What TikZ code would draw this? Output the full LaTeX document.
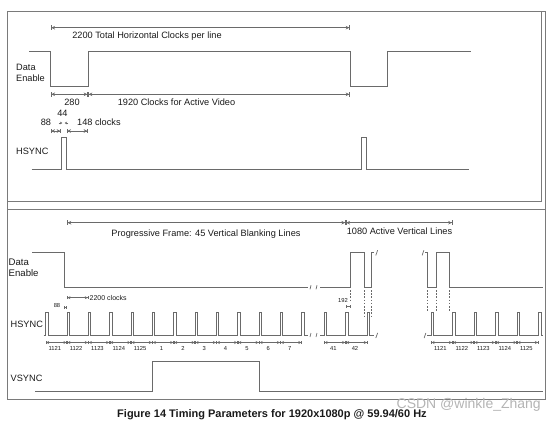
\documentclass[tikz,border=0pt]{standalone}
\usepackage{fontspec}
\setmainfont{Liberation Sans}
\usetikzlibrary{arrows.meta}
\definecolor{sigc}{HTML}{6A6A6A}
\definecolor{txtc}{HTML}{1A1A1A}
\definecolor{frmc}{HTML}{7A7A7A}
\definecolor{wmc}{HTML}{B4B4B4}
\tikzset{
  sig/.style={draw=sigc, line width=0.75pt, line join=miter},
  frm/.style={draw=frmc, line width=0.6pt},
  dimA/.style={draw=sigc, line width=0.5pt,
    {Bar[width=4.5pt,line width=0.7pt]Stealth[length=3.6pt,width=3.6pt]}-{Stealth[length=3.6pt,width=3.6pt]Bar[width=4.5pt,line width=0.7pt]}},
  dimB/.style={draw=sigc, line width=0.45pt,
    {Bar[width=3.4pt,line width=0.6pt]Stealth[length=2.9pt,width=3pt]}-{Stealth[length=2.9pt,width=3pt]Bar[width=3.4pt,line width=0.6pt]}},
  tickdim/.style={draw=sigc, line width=0.45pt, {Bar[width=2.8pt]}-{Bar[width=2.8pt]}},
  inarr/.style={draw=sigc, line width=0.45pt, -{Stealth[length=2.4pt,width=2.8pt]}},
  dsh/.style={draw=sigc, line width=0.6pt, dash pattern=on 1.6pt off 1.6pt},
  brk/.style={draw=sigc, line width=0.7pt},
  lbl/.style={text=txtc, inner sep=0pt, font=\fontsize{9.2}{11}\selectfont},
  mid/.style={text=txtc, inner sep=0pt, font=\fontsize{7}{8}\selectfont},
  sml/.style={text=txtc, inner sep=0pt, font=\fontsize{5.8}{6.5}\selectfont},
}
\newcommand{\squigmark}[2]{\draw[brk] (#1-0.9,#2+2.6) .. controls (#1+1.6,#2+1) and (#1-1.6,#2-1) .. (#1+0.9,#2-2.6);}
\newcommand{\brkmark}[2]{\draw[brk] (#1-0.5,#2+2) -- (#1+0.5,#2-2);}
\begin{document}
\begin{tikzpicture}[x=1pt,y=-1pt]
\useasboundingbox (0,0) rectangle (554,423);
% frames
\draw[frm] (7,11) rectangle (545,399);
\draw[frm] (7,11) rectangle (541,201.5);
\draw[frm] (7,209.3) -- (545,209.3);

% ---------- top panel ----------
\draw[dimA] (50.7,27.7) -- (350,27.7);
\node[lbl] (t2200) at (147,35.7) {2200 Total Horizontal Clocks per line};
\draw[sig] (29,51.7) -- (50.7,51.7) -- (50.7,86) -- (88,86) -- (88,51.7) -- (350,51.7) -- (350,86) -- (387.5,86) -- (387.5,51.7) -- (470.5,51.7);
\node[lbl,align=left,anchor=west] (tde) at (16,72.5) {Data\\Enable};
\draw[dimA] (50.7,94.3) -- (88,94.3);
\draw[dimA] (88,94.3) -- (350,94.3);
\node[lbl] (t280) at (72,102) {280};
\node[lbl] (t1920) at (176.5,102) {1920 Clocks for Active Video};
\node[lbl] (t44) at (62.5,113.7) {44};
\node[lbl] (t88) at (46,122) {88};
\node[lbl,anchor=west] (t148) at (77,122) {148 clocks};
\draw[inarr] (58.6,123) -- (62.3,123);
\draw[inarr] (68.4,123) -- (64.7,123);
\draw[dimA] (50.7,131) -- (61,131);
\draw[dimA] (66.7,131) -- (88,131);
\node[lbl,anchor=west] (ths) at (16,151.7) {HSYNC};
\draw[sig] (31.7,169.3) -- (61,169.3) -- (61,137.3) -- (66.7,137.3) -- (66.7,169.3) -- (361,169.3) -- (361,137.3) -- (366.7,137.3) -- (366.7,169.3) -- (468.7,169.3);

% ---------- bottom panel ----------
\draw[dimA] (66.95,222.7) -- (345.7,222.7);
\draw[dimA] (345.7,222.7) -- (452.5,222.7);
\node[lbl] (bprog) at (206,234) {Progressive Frame: 45 Vertical Blanking Lines};
\node[lbl] (b1080) at (399.5,231) {1080 Active Vertical Lines};

\node[lbl,align=left,anchor=west,font=\fontsize{9.6}{11}\selectfont] (bde) at (8.5,268) {Data\\Enable};
\draw[sig] (32,252.3) -- (64,252.3) -- (64,287.3) -- (308,287.3);
\brkmark{310.5}{287.3}\brkmark{316.5}{287.3}
\draw[sig] (320,287.3) -- (350.3,287.3) -- (350.3,252.3) -- (364,252.3) -- (364,287.3) -- (371.7,287.3) -- (371.7,252.3) -- (374.3,252.3);
\squigmark{376.7}{252.8}
\squigmark{423}{252.8}
\draw[sig] (425.2,252.3) -- (427.7,252.3) -- (427.7,287.3) -- (436.7,287.3) -- (436.7,252.3) -- (449.3,252.3) -- (449.3,287.3) -- (542.7,287.3);

\draw[dsh] (350.3,290) -- (350.3,301);
\draw[dsh] (364,290) -- (364,318);
\draw[dsh] (371.7,290) -- (371.7,318);
\draw[dsh] (427.7,290) -- (427.7,311);
\draw[dsh] (436.7,290) -- (436.7,311);
\draw[dsh] (449.3,290) -- (449.3,311);

\draw[dimB] (66.95,297.7) -- (88.3,297.7);
\node[mid,anchor=west] (b2200) at (89.5,297.9) {2200 clocks};
\node[sml] (b88) at (57,305.3) {88};
\draw[tickdim] (64,307.5) -- (66.9,307.5);
\node[sml] (b192) at (343,300.5) {192};
\draw[tickdim] (345.7,306.7) -- (350.3,306.7);

\node[lbl,anchor=west] (bhs) at (10.5,324) {HSYNC};
\draw[sig] (43.5,335) \foreach \k in {0,...,12}{ -- ({45.6+21.35*\k},335) -- ++(0,-23) -- ++(2.4,0) -- ++(0,23)} -- (308,335);
\brkmark{310.5}{335}\brkmark{316.5}{335}
\draw[sig] (320,335) \foreach \k in {0,1,2}{ -- ({324+21.65*\k},335) -- ++(0,-23) -- ++(2.4,0) -- ++(0,23)} -- (374.3,335);
\squigmark{376.7}{335.5}
\squigmark{425}{335.5}
\draw[sig] (427.2,335) \foreach \k in {0,...,5}{ -- ({431+21.5*\k},335) -- ++(0,-23) -- ++(2.4,0) -- ++(0,23)} -- (543.3,335);

\foreach \lab [count=\i from 0] in {1121,1122,1123,1124,1125,1,2,3,4,5,6,7}{
  \pgfmathsetmacro{\xa}{45.6+21.35*\i}
  \pgfmathsetmacro{\xb}{45.6+21.35*(\i+1)}
  \draw[dimB] (\xa,342.5) -- (\xb,342.5);
  \node[sml] (na\i) at ({(\xa+\xb)/2-1.5},348.8) {\lab};
}
\foreach \lab [count=\i from 0] in {41,42}{
  \pgfmathsetmacro{\xa}{324+21.65*\i}
  \pgfmathsetmacro{\xb}{324+21.65*(\i+1)}
  \draw[dimB] (\xa,342.5) -- (\xb,342.5);
  \node[sml] (nb\i) at ({(\xa+\xb)/2-1.5},348.8) {\lab};
}
\foreach \lab [count=\i from 0] in {1121,1122,1123,1124,1125}{
  \pgfmathsetmacro{\xa}{431+21.5*\i}
  \pgfmathsetmacro{\xb}{431+21.5*(\i+1)}
  \draw[dimB] (\xa,342.5) -- (\xb,342.5);
  \node[sml] (nc\i) at ({(\xa+\xb)/2-1.5},348.8) {\lab};
}

\node[lbl,anchor=west] (bvs) at (10.5,378.3) {VSYNC};
\draw[sig] (35,391.7) -- (152.35,391.7) -- (152.35,361.7) -- (259.1,361.7) -- (259.1,391.7) -- (543,391.7);

% caption and watermark
\node[text=txtc, inner sep=0pt, font=\bfseries\fontsize{11}{13}\selectfont] (cap) at (272,414.5) {Figure 14 Timing Parameters for 1920x1080p @ 59.94/60 Hz};
\node[text=wmc, inner sep=0pt, anchor=east, font=\fontsize{14}{16}\selectfont] (wm) at (541,405) {CSDN @winkle\_Zhang};
\end{tikzpicture}
\end{document}
